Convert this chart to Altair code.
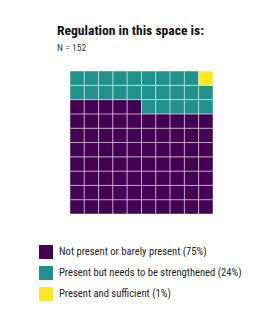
import altair as alt
import pandas as pd

categories = [
    "Not present or barely present (75%)",
    "Present but needs to be strengthened (24%)",
    "Present and sufficient (1%)",
]
counts = [75, 24, 1]
colors = ["#440154", "#21918c", "#fde725"]
n_cols = 10

cells = []
idx = 0
for cat, c in zip(categories, counts):
    for _ in range(c):
        cells.append({"col": idx % n_cols, "row": idx // n_cols, "category": cat})
        idx += 1
df = pd.DataFrame(cells)

FONT = "Roboto Condensed, Liberation Sans Narrow, DejaVu Sans Condensed, Roboto"

chart = (
    alt.Chart(df)
    .mark_rect(stroke="white", strokeWidth=1, strokeOpacity=0.45)
    .encode(
        x=alt.X("col:O", axis=None, scale=alt.Scale(paddingInner=0, paddingOuter=0)),
        y=alt.Y("row:O", axis=None, sort="descending",
                scale=alt.Scale(paddingInner=0, paddingOuter=0)),
        color=alt.Color(
            "category:N",
            scale=alt.Scale(domain=categories, range=colors),
            legend=alt.Legend(
                title=None,
                orient="none",
                legendX=-31,
                legendY=174,
                symbolType="square",
                symbolSize=196,
                symbolStrokeWidth=0,
                symbolOpacity=1,
                labelFont=FONT,
                labelFontSize=10.6,
                labelColor="#222222",
                labelOffset=6,
                rowPadding=7,
                labelLimit=300,
            ),
        ),
    )
    .properties(
        width=143,
        height=143,
        title=alt.TitleParams(
            text="Regulation in this space is:",
            subtitle="N = 152",
            anchor="start",
            dx=18,
            font=FONT,
            fontSize=13.6,
            fontWeight="bold",
            color="#111111",
            subtitleFont=FONT,
            subtitleFontSize=9.6,
            subtitleColor="#333333",
            subtitlePadding=5,
            offset=18,
        ),
        padding={"left": 62, "top": 63, "right": 53, "bottom": 107},
        autosize=alt.AutoSizeParams(type="none"),
    )
    .configure_view(stroke=None)
)

chart.save("out.html", embed_options={"renderer": "svg", "actions": False})
